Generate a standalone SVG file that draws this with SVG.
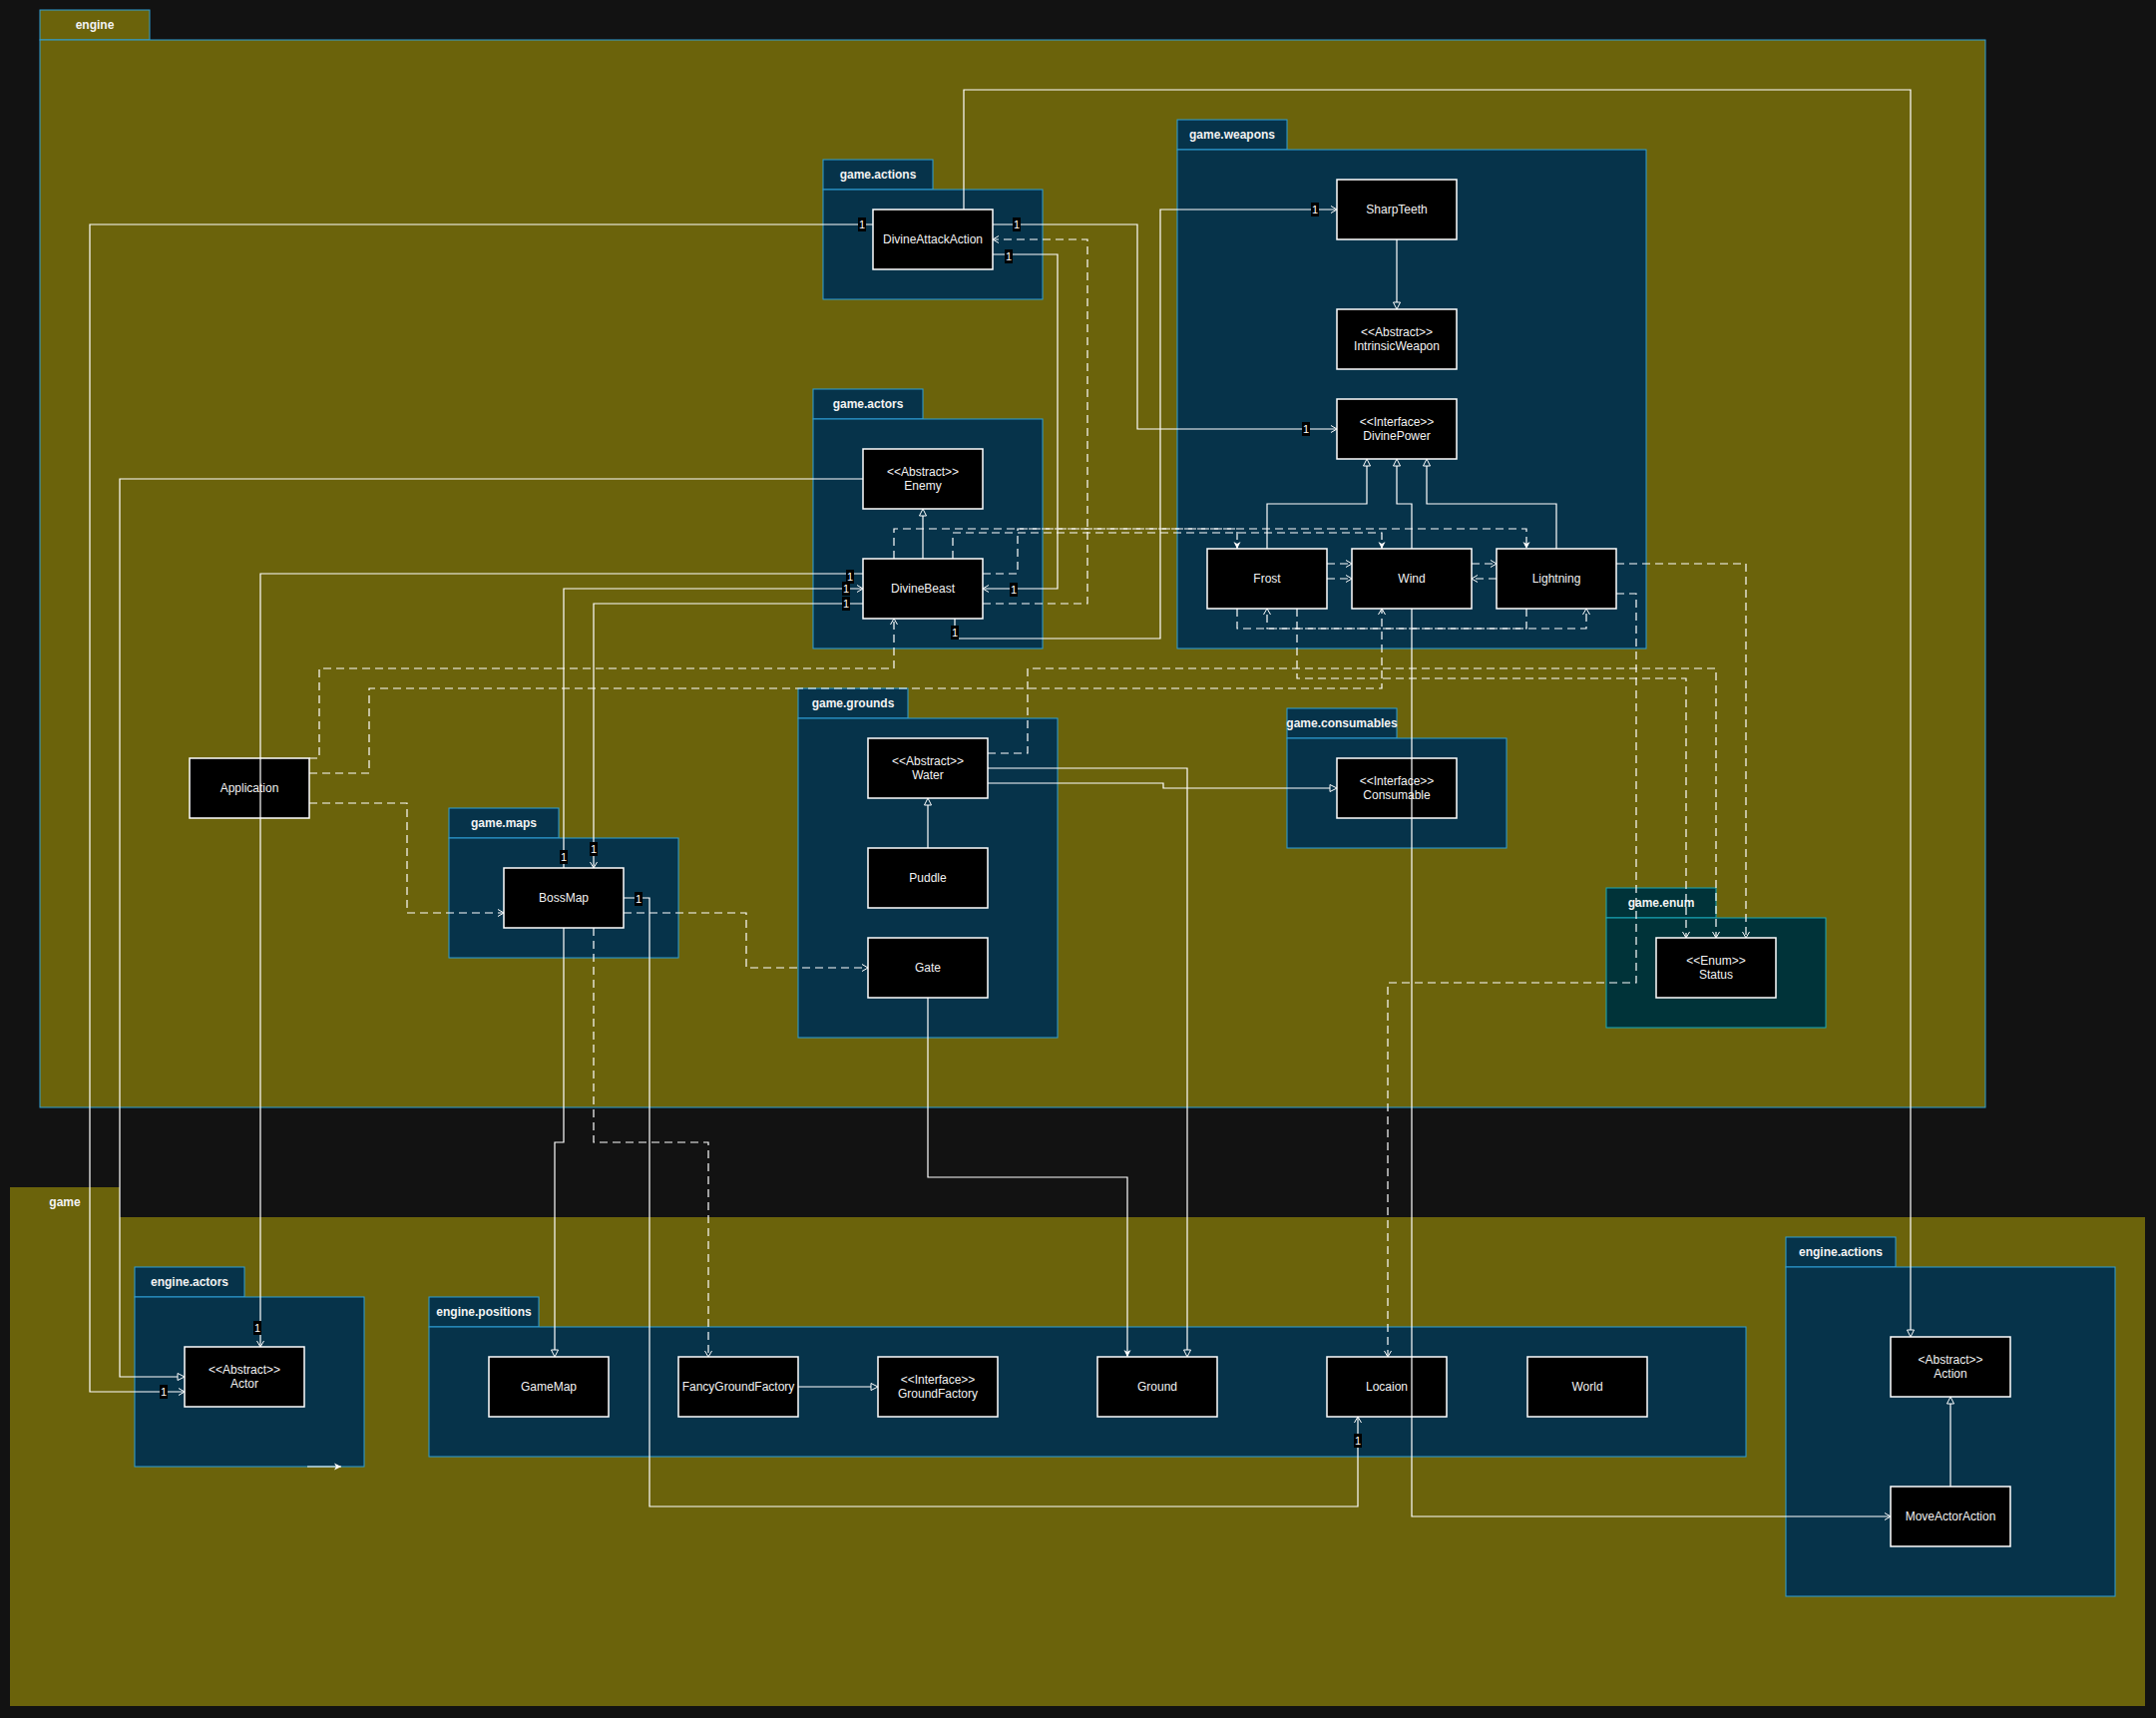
<svg xmlns="http://www.w3.org/2000/svg" width="2161" height="1722" viewBox="0 0 2161 1722">
<style>
  .bg { fill:#121212; }
  .olive { fill:#6B630B; }
  .engine { fill:#6B630B; stroke:#2E9FD6; stroke-width:1; }
  .pkg { fill:#06334A; stroke:#2E9FD6; stroke-width:1; }
  .pkg2 { fill:#003339; stroke:#1BA8B8; stroke-width:1; }
  .ptxt { font-family:"Liberation Sans", Arial, sans-serif; font-size:12px; font-weight:bold; fill:#F2F2F2; text-anchor:middle; }
  .node rect { fill:#000; stroke:#fff; stroke-width:1.5; }
  .node text { font-family:"Liberation Sans", Arial, sans-serif; font-size:12px; fill:#F2F2F2; text-anchor:middle; }
  .c { fill:none; stroke:#fff; stroke-width:1.2; }
  .d { stroke-dasharray:8 5; }
  .lbl rect { fill:#000; }
  .lbl text { font-family:"Liberation Sans", Arial, sans-serif; font-size:11px; fill:#fff; text-anchor:middle; }
</style>
<defs>
  <marker id="open" viewBox="-8 -5 10 10" refX="0" refY="0" markerWidth="10" markerHeight="10" markerUnits="userSpaceOnUse" orient="auto">
    <path d="M-6,-3.5 L0,0 L-6,3.5" fill="none" stroke="#fff" stroke-width="1" stroke-dasharray="none"/>
  </marker>
  <marker id="tri" viewBox="-1 -5 10 10" refX="0" refY="0" markerWidth="10" markerHeight="10" markerUnits="userSpaceOnUse" orient="auto">
    <path d="M0,-3.5 L7,0 L0,3.5 Z" fill="none" stroke="#fff" stroke-width="1" stroke-dasharray="none"/>
  </marker>
  <marker id="fill" viewBox="-9 -5 10 10" refX="0" refY="0" markerWidth="10" markerHeight="10" markerUnits="userSpaceOnUse" orient="auto">
    <path d="M-7,-3.5 L0,0 L-7,3.5 L-5,0 Z" fill="#fff" stroke="none"/>
  </marker>
</defs>

<rect class="bg" x="0" y="0" width="2161" height="1722"/>

<!-- packages -->
<g id="pkg-game">
  <rect class="olive" x="10" y="1190" width="110" height="30"/>
  <rect class="olive" x="10" y="1220" width="2140" height="490"/>
  <text class="ptxt" x="65" y="1209">game</text>
</g>
<g id="pkg-engine">
  <rect class="engine" x="40" y="10" width="110" height="30"/>
  <rect class="engine" x="40" y="40" width="1950" height="1070"/>
  <text class="ptxt" x="95" y="29">engine</text>
</g>
<g id="pkg-game-actions">
  <rect class="pkg" x="825" y="160" width="110" height="30"/>
  <rect class="pkg" x="825" y="190" width="220" height="110"/>
  <text class="ptxt" x="880" y="179">game.actions</text>
</g>
<g id="pkg-game-actors">
  <rect class="pkg" x="815" y="390" width="110" height="30"/>
  <rect class="pkg" x="815" y="420" width="230" height="230"/>
  <text class="ptxt" x="870" y="409">game.actors</text>
</g>
<g id="pkg-game-weapons">
  <rect class="pkg" x="1180" y="120" width="110" height="30"/>
  <rect class="pkg" x="1180" y="150" width="470" height="500"/>
  <text class="ptxt" x="1235" y="139">game.weapons</text>
</g>
<g id="pkg-game-grounds">
  <rect class="pkg" x="800" y="690" width="110" height="30"/>
  <rect class="pkg" x="800" y="720" width="260" height="320"/>
  <text class="ptxt" x="855" y="709">game.grounds</text>
</g>
<g id="pkg-game-consumables">
  <rect class="pkg" x="1290" y="710" width="110" height="30"/>
  <rect class="pkg" x="1290" y="740" width="220" height="110"/>
  <text class="ptxt" x="1345" y="729">game.consumables</text>
</g>
<g id="pkg-game-enum">
  <rect class="pkg2" x="1610" y="890" width="110" height="30"/>
  <rect class="pkg2" x="1610" y="920" width="220" height="110"/>
  <text class="ptxt" x="1665" y="909">game.enum</text>
</g>
<g id="pkg-game-maps">
  <rect class="pkg" x="450" y="810" width="110" height="30"/>
  <rect class="pkg" x="450" y="840" width="230" height="120"/>
  <text class="ptxt" x="505" y="829">game.maps</text>
</g>
<g id="pkg-engine-actors">
  <rect class="pkg" x="135" y="1270" width="110" height="30"/>
  <rect class="pkg" x="135" y="1300" width="230" height="170"/>
  <text class="ptxt" x="190" y="1289">engine.actors</text>
</g>
<g id="pkg-engine-positions">
  <rect class="pkg" x="430" y="1300" width="110" height="30"/>
  <rect class="pkg" x="430" y="1330" width="1320" height="130"/>
  <text class="ptxt" x="485" y="1319">engine.positions</text>
</g>
<g id="pkg-engine-actions">
  <rect class="pkg" x="1790" y="1240" width="110" height="30"/>
  <rect class="pkg" x="1790" y="1270" width="330" height="330"/>
  <text class="ptxt" x="1845" y="1259">engine.actions</text>
</g>

<!-- nodes -->
<g id="n-divineattackaction" class="node"><rect x="875" y="210" width="120" height="60"/><text x="935" y="244">DivineAttackAction</text></g>
<g id="n-enemy" class="node"><rect x="865" y="450" width="120" height="60"/><text x="925" y="477">&lt;&lt;Abstract&gt;&gt;</text><text x="925" y="491">Enemy</text></g>
<g id="n-divinebeast" class="node"><rect x="865" y="560" width="120" height="60"/><text x="925" y="594">DivineBeast</text></g>
<g id="n-sharpteeth" class="node"><rect x="1340" y="180" width="120" height="60"/><text x="1400" y="214">SharpTeeth</text></g>
<g id="n-intrinsicweapon" class="node"><rect x="1340" y="310" width="120" height="60"/><text x="1400" y="337">&lt;&lt;Abstract&gt;&gt;</text><text x="1400" y="351">IntrinsicWeapon</text></g>
<g id="n-divinepower" class="node"><rect x="1340" y="400" width="120" height="60"/><text x="1400" y="427">&lt;&lt;Interface&gt;&gt;</text><text x="1400" y="441">DivinePower</text></g>
<g id="n-frost" class="node"><rect x="1210" y="550" width="120" height="60"/><text x="1270" y="584">Frost</text></g>
<g id="n-wind" class="node"><rect x="1355" y="550" width="120" height="60"/><text x="1415" y="584">Wind</text></g>
<g id="n-lightning" class="node"><rect x="1500" y="550" width="120" height="60"/><text x="1560" y="584">Lightning</text></g>
<g id="n-application" class="node"><rect x="190" y="760" width="120" height="60"/><text x="250" y="794">Application</text></g>
<g id="n-bossmap" class="node"><rect x="505" y="870" width="120" height="60"/><text x="565" y="904">BossMap</text></g>
<g id="n-water" class="node"><rect x="870" y="740" width="120" height="60"/><text x="930" y="767">&lt;&lt;Abstract&gt;&gt;</text><text x="930" y="781">Water</text></g>
<g id="n-puddle" class="node"><rect x="870" y="850" width="120" height="60"/><text x="930" y="884">Puddle</text></g>
<g id="n-gate" class="node"><rect x="870" y="940" width="120" height="60"/><text x="930" y="974">Gate</text></g>
<g id="n-consumable" class="node"><rect x="1340" y="760" width="120" height="60"/><text x="1400" y="787">&lt;&lt;Interface&gt;&gt;</text><text x="1400" y="801">Consumable</text></g>
<g id="n-status" class="node"><rect x="1660" y="940" width="120" height="60"/><text x="1720" y="967">&lt;&lt;Enum&gt;&gt;</text><text x="1720" y="981">Status</text></g>
<g id="n-actor" class="node"><rect x="185" y="1350" width="120" height="60"/><text x="245" y="1377">&lt;&lt;Abstract&gt;&gt;</text><text x="245" y="1391">Actor</text></g>
<g id="n-gamemap" class="node"><rect x="490" y="1360" width="120" height="60"/><text x="550" y="1394">GameMap</text></g>
<g id="n-fancygroundfactory" class="node"><rect x="680" y="1360" width="120" height="60"/><text x="740" y="1394">FancyGroundFactory</text></g>
<g id="n-groundfactory" class="node"><rect x="880" y="1360" width="120" height="60"/><text x="940" y="1387">&lt;&lt;Interface&gt;&gt;</text><text x="940" y="1401">GroundFactory</text></g>
<g id="n-ground" class="node"><rect x="1100" y="1360" width="120" height="60"/><text x="1160" y="1394">Ground</text></g>
<g id="n-locaion" class="node"><rect x="1330" y="1360" width="120" height="60"/><text x="1390" y="1394">Locaion</text></g>
<g id="n-world" class="node"><rect x="1531" y="1360" width="120" height="60"/><text x="1591" y="1394">World</text></g>
<g id="n-action" class="node"><rect x="1895" y="1340" width="120" height="60"/><text x="1955" y="1367">&lt;Abstract&gt;&gt;</text><text x="1955" y="1381">Action</text></g>
<g id="n-moveactoraction" class="node"><rect x="1895" y="1490" width="120" height="60"/><text x="1955" y="1524">MoveActorAction</text></g>

<!-- connectors -->
<g id="connectors">
  <path class="c" d="M966,210 V90 H1915 V1333" marker-end="url(#tri)"/>
  <path class="c" d="M875,225 H90 V1395 H185" marker-end="url(#open)"/>
  <path class="c" d="M995,225 H1140 V430 H1340" marker-end="url(#open)"/>
  <path class="c" d="M995,255 H1060 V590 H985" marker-end="url(#open)"/>
  <path class="c d" d="M985,605 H1090 V240 H995" marker-end="url(#open)"/>
  <path class="c" d="M865,480 H120 V1380 H178" marker-end="url(#tri)"/>
  <path class="c" d="M925,560 V517" marker-end="url(#tri)"/>
  <path class="c" d="M865,575 H261 V1350" marker-end="url(#open)"/>
  <path class="c" d="M565,870 V590 H865" marker-end="url(#open)"/>
  <path class="c" d="M865,605 H595 V870" marker-end="url(#open)"/>
  <path class="c" d="M957,620 V640 H1163 V210 H1340" marker-end="url(#open)"/>
  <path class="c d" d="M896,560 V530 H1240 V550" marker-end="url(#fill)"/>
  <path class="c d" d="M955,560 V534 H1385 V550" marker-end="url(#fill)"/>
  <path class="c d" d="M985,575 H1020 V530 H1530 V550" marker-end="url(#fill)"/>
  <path class="c d" d="M310,760 H320 V670 H896 V620" marker-end="url(#open)"/>
  <path class="c d" d="M310,775 H370 V690 H1385 V610" marker-end="url(#open)"/>
  <path class="c d" d="M310,805 H408 V915 H505" marker-end="url(#open)"/>
  <path class="c d" d="M1330,565 H1355" marker-end="url(#open)"/>
  <path class="c d" d="M1330,580 H1355" marker-end="url(#open)"/>
  <path class="c d" d="M1475,565 H1500" marker-end="url(#open)"/>
  <path class="c d" d="M1500,580 H1475" marker-end="url(#open)"/>
  <path class="c d" d="M1240,610 V630 H1590 V610" marker-end="url(#open)"/>
  <path class="c d" d="M1530,610 V630 H1270 V610" marker-end="url(#open)"/>
  <path class="c" d="M1270,550 V505 H1370 V467" marker-end="url(#tri)"/>
  <path class="c" d="M1415,550 V505 H1400 V467" marker-end="url(#tri)"/>
  <path class="c" d="M1560,550 V505 H1430 V467" marker-end="url(#tri)"/>
  <path class="c" d="M1400,240 V303" marker-end="url(#tri)"/>
  <path class="c d" d="M1300,610 V680 H1690 V940" marker-end="url(#open)"/>
  <path class="c d" d="M990,755 H1030 V670 H1720 V940" marker-end="url(#open)"/>
  <path class="c d" d="M1620,565 H1750 V940" marker-end="url(#open)"/>
  <path class="c d" d="M1620,595 H1640 V985 H1391 V1360" marker-end="url(#open)"/>
  <path class="c" d="M1415,610 V1520 H1895" marker-end="url(#open)"/>
  <path class="c" d="M990,770 H1190 V1353" marker-end="url(#tri)"/>
  <path class="c" d="M990,785 H1166 V790 H1333" marker-end="url(#tri)"/>
  <path class="c" d="M930,850 V807" marker-end="url(#tri)"/>
  <path class="c" d="M930,1000 V1180 H1130 V1360" marker-end="url(#fill)"/>
  <path class="c" d="M625,900 H651 V1510 H1361 V1420" marker-end="url(#open)"/>
  <path class="c d" d="M625,915 H748 V970 H870" marker-end="url(#open)"/>
  <path class="c" d="M565,930 V1145 H556 V1353" marker-end="url(#tri)"/>
  <path class="c d" d="M595,930 V1145 H710 V1360" marker-end="url(#open)"/>
  <path class="c" d="M800,1390 H873" marker-end="url(#tri)"/>
  <path class="c" d="M1955,1490 V1407" marker-end="url(#tri)"/>
  <path class="c" d="M308,1470 H342" marker-end="url(#fill)"/>
</g>

<!-- multiplicity labels -->
<g id="labels">
  <g class="lbl"><rect x="860" y="218" width="8" height="14"/><text x="864" y="229">1</text></g>
  <g class="lbl"><rect x="1015" y="218" width="8" height="14"/><text x="1019" y="229">1</text></g>
  <g class="lbl"><rect x="1007" y="250" width="8" height="14"/><text x="1011" y="261">1</text></g>
  <g class="lbl"><rect x="1305" y="423" width="8" height="14"/><text x="1309" y="434">1</text></g>
  <g class="lbl"><rect x="1314" y="203" width="8" height="14"/><text x="1318" y="214">1</text></g>
  <g class="lbl"><rect x="848" y="571" width="8" height="14"/><text x="852" y="582">1</text></g>
  <g class="lbl"><rect x="844" y="583" width="8" height="14"/><text x="848" y="594">1</text></g>
  <g class="lbl"><rect x="844" y="598" width="8" height="14"/><text x="848" y="609">1</text></g>
  <g class="lbl"><rect x="1012" y="584" width="8" height="14"/><text x="1016" y="595">1</text></g>
  <g class="lbl"><rect x="953" y="627" width="8" height="14"/><text x="957" y="638">1</text></g>
  <g class="lbl"><rect x="561" y="852" width="8" height="14"/><text x="565" y="863">1</text></g>
  <g class="lbl"><rect x="591" y="844" width="8" height="14"/><text x="595" y="855">1</text></g>
  <g class="lbl"><rect x="636" y="894" width="8" height="14"/><text x="640" y="905">1</text></g>
  <g class="lbl"><rect x="254" y="1324" width="8" height="14"/><text x="258" y="1335">1</text></g>
  <g class="lbl"><rect x="160" y="1388" width="8" height="14"/><text x="164" y="1399">1</text></g>
  <g class="lbl"><rect x="1357" y="1437" width="8" height="14"/><text x="1361" y="1448">1</text></g>
</g>
</svg>
